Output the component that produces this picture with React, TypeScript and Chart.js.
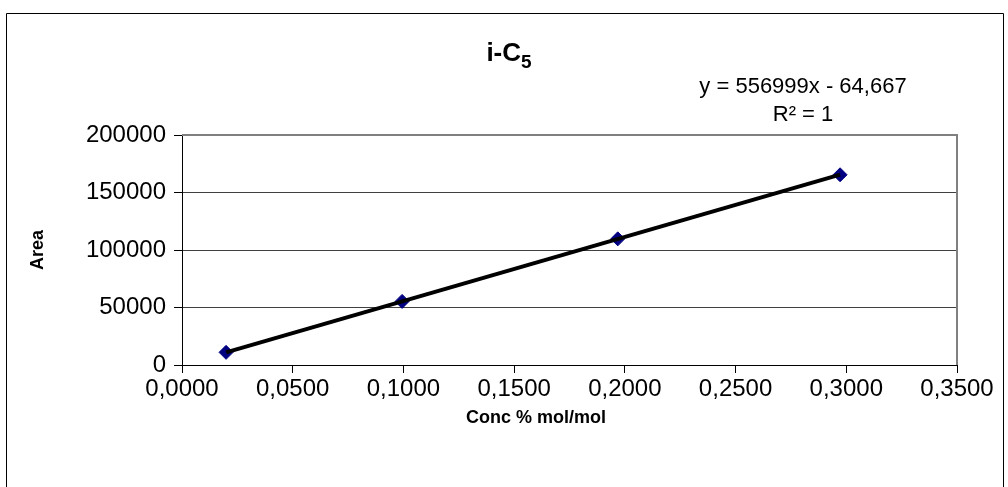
import React, { useEffect, useRef } from "react";
import { Chart, registerables } from "chart.js";

Chart.register(...registerables);

const concValues = [0.0199, 0.0994, 0.1968, 0.2972];
const areaValues = [11000, 55300, 109700, 165400];
const trendSlope = 556999;
const trendIntercept = -64.667;
const xTicks = [0, 0.05, 0.1, 0.15, 0.2, 0.25, 0.3, 0.35];
const yTicks = [0, 50000, 100000, 150000, 200000];
const chartTitle = "i-C";
const chartTitleSub = "5";
const equationText = "y = 556999x - 64,667";
const r2Text = "R² = 1";
const xAxisTitle = "Conc % mol/mol";
const yAxisTitle = "Area";

const FONT = "'Liberation Sans', Arial, sans-serif";

const textPlugin = {
  id: "textPlugin",
  afterDraw(chart: any) {
    const ctx = chart.ctx as CanvasRenderingContext2D;
    const area = chart.chartArea;
    ctx.save();
    // outer border
    ctx.strokeStyle = "#000";
    ctx.lineWidth = 1;
    ctx.beginPath();
    ctx.moveTo(6.5, 500);
    ctx.lineTo(6.5, 13.5);
    ctx.lineTo(1003.5, 13.5);
    ctx.lineTo(1003.5, 500);
    ctx.stroke();
    // plot area right & top border
    ctx.strokeStyle = "#808080";
    ctx.lineWidth = 2;
    ctx.beginPath();
    ctx.moveTo(area.left, area.top);
    ctx.lineTo(area.right, area.top);
    ctx.lineTo(area.right, area.bottom);
    ctx.stroke();

    ctx.fillStyle = "#000";
    ctx.textBaseline = "alphabetic";
    // title
    ctx.font = `bold 26px ${FONT}`;
    const mainW = ctx.measureText(chartTitle).width;
    ctx.font = `bold 19px ${FONT}`;
    const subW = ctx.measureText(chartTitleSub).width;
    const tx = 509 - (mainW + subW) / 2;
    ctx.font = `bold 26px ${FONT}`;
    ctx.textAlign = "left";
    ctx.fillText(chartTitle, tx, 61);
    ctx.font = `bold 19px ${FONT}`;
    ctx.fillText(chartTitleSub, tx + mainW, 68);

    // equation
    ctx.font = `22px ${FONT}`;
    ctx.textAlign = "center";
    ctx.fillText(equationText, 803, 93);
    ctx.fillText(r2Text, 803, 121);

    // x axis title
    ctx.font = `bold 18px ${FONT}`;
    ctx.textBaseline = "middle";
    ctx.fillText(xAxisTitle, 536, 418);

    // y axis title
    ctx.translate(38, (area.top + area.bottom) / 2);
    ctx.rotate(-Math.PI / 2);
    ctx.font = `bold 18px ${FONT}`;
    ctx.fillText(yAxisTitle, 0, 0);
    ctx.restore();
  },
};

export default function App() {
  const canvasRef = useRef<HTMLCanvasElement | null>(null);

  useEffect(() => {
    if (!canvasRef.current) return;
    const xFirst = concValues[0];
    const xLast = concValues[concValues.length - 1];
    const trendData = [
      { x: xFirst, y: trendSlope * xFirst + trendIntercept },
      { x: xLast, y: trendSlope * xLast + trendIntercept },
    ];
    const chart = new Chart(canvasRef.current, {
      type: "scatter",
      data: {
        datasets: [
          {
            label: "Trend",
            data: trendData,
            showLine: true,
            borderColor: "#000",
            borderWidth: 4,
            pointRadius: 0,
            order: 0,
          },
          {
            label: "i-C5",
            data: concValues.map((x, i) => ({ x, y: areaValues[i] })),
            pointStyle: "rectRot",
            pointRadius: 7,
            pointBackgroundColor: "#000080",
            pointBorderColor: "#000080",
            pointBorderWidth: 1,
            showLine: false,
            order: 1,
          },
        ],
      },
      options: {
        responsive: false,
        animation: false,
        devicePixelRatio: 1,
        layout: { padding: { left: 0, top: 135, right: 51, bottom: 0 } },
        plugins: {
          legend: { display: false },
          tooltip: { enabled: false },
          title: { display: false },
        },
        scales: {
          x: {
            type: "linear",
            min: 0,
            max: 0.35,
            afterFit: (s: any) => {
              s.height = 122;
            },
            afterBuildTicks: (s: any) => {
              s.ticks = xTicks.map((v) => ({ value: v }));
            },
            border: { color: "#000", width: 1 },
            grid: {
              drawOnChartArea: false,
              drawTicks: true,
              tickLength: 8,
              tickColor: "#000",
            },
            ticks: {
              color: "#000",
              font: { family: FONT, size: 24 },
              padding: 2,
              maxRotation: 0,
              callback: (v: any) => Number(v).toFixed(4).replace(".", ","),
            },
          },
          y: {
            type: "linear",
            min: 0,
            max: 200000,
            afterFit: (s: any) => {
              s.width = 182;
            },
            afterBuildTicks: (s: any) => {
              s.ticks = yTicks.map((v) => ({ value: v }));
            },
            border: { color: "#000", width: 1 },
            grid: {
              color: "#404040",
              lineWidth: 1,
              drawTicks: true,
              tickLength: 8,
              tickColor: "#000",
            },
            ticks: {
              color: "#000",
              font: { family: FONT, size: 24 },
              padding: 8,
              callback: (v: any) => String(v),
            },
          },
        },
      },
      plugins: [textPlugin],
    });
    return () => chart.destroy();
  }, []);

  return (
    <div style={{ position: "absolute", left: 0, top: 0, width: 1008, height: 487, background: "#fff" }}>
      <canvas ref={canvasRef} width={1008} height={487} />
    </div>
  );
}
